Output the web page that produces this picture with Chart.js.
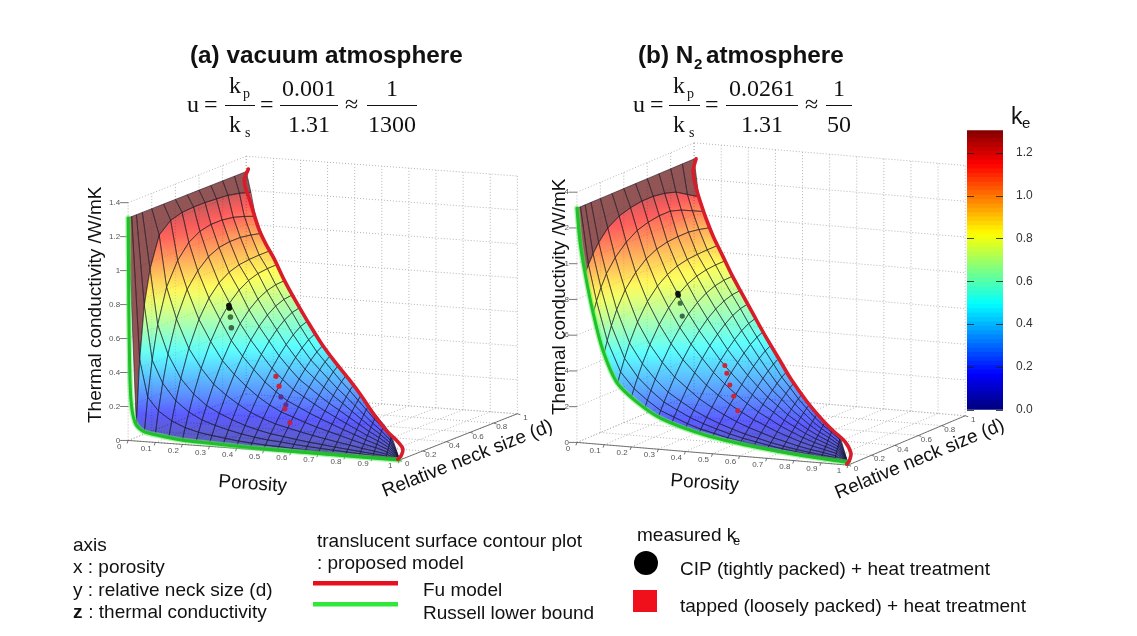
<!DOCTYPE html>
<html><head><meta charset="utf-8">
<style>html,body{margin:0;padding:0;background:#fff;overflow:hidden}canvas{position:absolute;display:block}</style>
<script src="https://cdn.jsdelivr.net/npm/chart.js@4"></script>
</head><body>
<canvas id="main" width="1137" height="636" style="left:0;top:0;width:1137px;height:636px"></canvas>
<canvas id="bar" width="72" height="320" style="left:967px;top:110px;width:72px;height:320px"></canvas>
<script>
// ---------- values ----------
const porosityRows=[0,.03,.06,.1,.15,.2,.25,.3,.35,.4,.45,.5,.55,.6,.65,.7,.75,.8,.85,.9,.95,1];
const neckShareCols=[0,.03,.07,.12,.2,.3,.4,.5,.6,.7,.8,.9,1]; // share of the reachable neck size at each porosity
const keVacuum=[
[1.31,1.31,1.31,1.31,1.31,1.31,1.31,1.31,1.31,1.31,1.31,1.31,1.31],
[.10,.47,.78,.98,1.16,1.22,1.24,1.245,1.245,1.24,1.235,1.22,1.20],
[.06,.254,.462,.657,.858,.99,1.07,1.11,1.125,1.125,1.115,1.095,1.07],
[.045,.178,.331,.489,.677,.827,.912,.97,1.0,1.01,1.01,1.0,.985],
[.035,.125,.234,.354,.512,.66,.762,.829,.868,.889,.897,.90,.90],
[.025,.092,.175,.27,.404,.54,.645,.723,.777,.812,.831,.838,.84],
[.02,.071,.135,.21,.319,.437,.535,.614,.674,.718,.746,.761,.765],
[.018,.058,.11,.172,.264,.366,.454,.53,.591,.639,.673,.693,.70],
[.015,.048,.09,.141,.218,.307,.387,.458,.518,.568,.607,.634,.645],
[.012,.038,.073,.115,.179,.256,.325,.389,.446,.496,.537,.569,.585],
[.01,.032,.061,.096,.151,.216,.278,.336,.389,.436,.477,.51,.53],
[.009,.027,.051,.081,.128,.184,.237,.289,.337,.382,.422,.456,.48],
[.008,.024,.046,.072,.113,.164,.212,.259,.303,.344,.382,.416,.44],
[.006,.02,.039,.062,.099,.143,.186,.229,.269,.307,.343,.375,.40],
[.005,.017,.034,.054,.086,.125,.164,.201,.237,.272,.305,.335,.36],
[.004,.015,.029,.047,.075,.11,.144,.177,.21,.242,.272,.301,.325],
[.003,.012,.025,.04,.064,.095,.124,.153,.182,.21,.237,.262,.285],
[.003,.011,.021,.034,.055,.08,.106,.13,.155,.179,.202,.225,.245],
[.002,.008,.017,.028,.044,.065,.086,.107,.127,.148,.168,.187,.205],
[.002,.007,.014,.023,.036,.054,.071,.088,.105,.121,.138,.154,.17],
[.001,.005,.01,.016,.026,.038,.051,.063,.075,.088,.1,.113,.125],
[.001,.002,.002,.003,.003,.004,.005,.006,.007,.008,.009,.009,.01]];
const keNitrogen=[
[1.31,1.31,1.31,1.31,1.31,1.31,1.31,1.31,1.31,1.31,1.31,1.31,1.31],
[.95,.99,1.04,1.09,1.15,1.19,1.21,1.22,1.22,1.21,1.19,1.15,1.11],
[.73,.79,.855,.92,.99,1.05,1.09,1.11,1.12,1.12,1.10,1.07,1.04],
[.51,.574,.648,.725,.816,.889,.94,.97,.985,.99,.99,.98,.965],
[.35,.406,.473,.547,.645,.737,.80,.841,.865,.878,.883,.885,.885],
[.275,.32,.375,.439,.528,.619,.69,.742,.778,.801,.814,.819,.82],
[.225,.261,.307,.36,.438,.522,.591,.647,.69,.722,.742,.752,.755],
[.18,.21,.25,.296,.365,.443,.51,.566,.613,.649,.674,.69,.695],
[.155,.18,.213,.252,.312,.38,.442,.496,.542,.581,.611,.631,.64],
[.13,.151,.178,.211,.261,.321,.376,.426,.471,.51,.543,.567,.58],
[.11,.127,.151,.179,.223,.275,.324,.37,.412,.45,.483,.509,.525],
[.095,.11,.129,.152,.19,.234,.277,.318,.356,.392,.424,.451,.47],
[.08,.092,.109,.13,.161,.201,.238,.274,.308,.341,.37,.396,.415],
[.068,.079,.092,.109,.137,.17,.202,.233,.263,.291,.318,.342,.36],
[.058,.067,.079,.094,.118,.147,.175,.203,.229,.255,.279,.302,.32],
[.048,.056,.066,.078,.098,.123,.147,.171,.194,.216,.238,.258,.275],
[.04,.047,.055,.066,.084,.105,.126,.147,.167,.187,.206,.224,.24],
[.033,.039,.046,.055,.07,.088,.106,.124,.141,.158,.175,.191,.205],
[.028,.033,.039,.047,.06,.075,.091,.107,.122,.137,.152,.166,.18],
[.024,.028,.034,.041,.052,.066,.08,.093,.107,.121,.134,.147,.16],
[.02,.023,.028,.034,.043,.055,.066,.078,.089,.1,.112,.124,.135],
[.01,.01,.01,.01,.01,.01,.01,.01,.01,.01,.01,.01,.01]];
const fuPorosityA=[0,0,0,.02,.05,.084,.13,.18,.25,.32,.4,.49,.58,.67,.75,.84,.92,.97,1,1,.995];
const fuNeckA=[1.017,.983,.995,.98,.95,.916,.87,.82,.75,.68,.6,.51,.42,.33,.25,.16,.08,.03,.03,.015,0];
const fuKeA=[1.32,1.266,1.21,1.157,1.08,1.0,.93,.87,.765,.677,.585,.49,.415,.35,.285,.2,.14,.116,.06,.02,.005];
const fuPorosityB=[0,0,0,.02,.05,.077,.125,.18,.245,.31,.385,.465,.55,.63,.73,.826,.91,.98,1,1,.995];
const fuNeckB=[1.017,.992,1,.98,.95,.923,.875,.82,.755,.69,.615,.535,.45,.37,.27,.174,.09,.02,.025,.01,0];
const fuKeB=[1.306,1.25,1.195,1.135,1.065,1.009,.925,.85,.76,.683,.595,.503,.415,.331,.25,.19,.15,.124,.06,.02,.005];
const russellPorosityA=[0,.002,.004,.01,.025,.055,.1,.2,.3,.45,.6,.8,1];
const russellKeA=[1.31,.9,.6,.25,.11,.06,.045,.025,.018,.01,.006,.003,.001];
const russellPorosityB=[0,.011,.03,.06,.095,.146,.22,.315,.476,.645,.84,1];
const russellKeB=[1.31,1.127,.95,.73,.53,.356,.255,.17,.10,.06,.03,.015];
const cipPorosity=.2, tappedPorosity=.45;
const cipNeckA=[.394,.398,.407,.415], cipKeA=[.71,.694,.639,.573];
const tappedNeckA=[.219,.245,.261,.303,.295,.337], tappedKeA=[.37,.305,.237,.179,.158,.065];
const cipNeckB=[.398,.402,.419,.436], cipKeB=[.749,.738,.689,.612];
const tappedNeckB=[.221,.238,.264,.297,.331], tappedKeB=[.427,.378,.305,.234,.143];
const porosityTicks=[0,.1,.2,.3,.4,.5,.6,.7,.8,.9,1];
const neckTicks=[0,.2,.4,.6,.8,1];
const keTicks=[0,.2,.4,.6,.8,1,1.2,1.4];
const colorbarMax=1.305, colorbarSlices=64;

// ---------- view (orthographic projection of the two 3D boxes) ----------
const viewA={ox:125,oy:442,px:273,py:20,dx:119,dy:-47,kz:172};
const viewB={ox:577,oy:444,px:273,py:23,dx:118,dy:-50,kz:181};
const proj=(v,p,d,k)=>({x:v.ox+v.px*p+v.dx*d,y:v.oy+v.py*p+v.dy*d-v.kz*k});
function jet(t){const c=a=>Math.round(255*Math.max(0,Math.min(1,a)));t=Math.max(0,Math.min(1,t));
  return [c(Math.min(4*t-1.5,-4*t+4.5)),c(Math.min(4*t-.5,-4*t+3.5)),c(Math.min(4*t+.5,-4*t+2.5))];}
const jetCss=(k,a)=>{const c=jet(k/colorbarMax);return `rgba(${c[0]},${c[1]},${c[2]},${a})`;};

function series(v,ps,ds,ks){return ks.map((k,i)=>proj(v,Array.isArray(ps)?ps[i]:ps,ds?ds[i]:0,k));}
const line=(data,color,w)=>({type:'scatter',data,showLine:true,borderColor:color,borderWidth:w,pointRadius:0,tension:.3,borderJoinStyle:'round',borderCapStyle:'round',fill:false});
const dots=(data,colors,r,style)=>({type:'scatter',data,showLine:false,pointRadius:r,pointStyle:style||'circle',backgroundColor:colors,borderColor:colors,borderWidth:0});

const cipColors=['#0c140c','#0c140c','#3f7440','#3c6a48'];
const tappedColorsA=['#cc2438','#cc2438','#55309a','#5a2f9c','#c0224c','#c0224c'];
const tappedColorsB=['#cc2438','#cc2438','#cc2438','#cc2438','#cc2438'];

const datasets=[
 dots(series(viewA,cipPorosity,cipNeckA,cipKeA),cipColors,2.8),
 dots(series(viewA,tappedPorosity,tappedNeckA,tappedKeA),tappedColorsA,2.6),
 dots(series(viewB,cipPorosity,cipNeckB,cipKeB),cipColors,2.6),
 dots(series(viewB,tappedPorosity,tappedNeckB,tappedKeB),tappedColorsB,2.5),
 line(series(viewA,fuPorosityA,fuNeckA,fuKeA),'#d81c2a',3.6),
 line(series(viewB,fuPorosityB,fuNeckB,fuKeB),'#d81c2a',3.6),
 line(series(viewA,russellPorosityA,null,russellKeA),'#1fc02a',3),
 line(series(viewB,russellPorosityB,null,russellKeB),'#1fc02a',3),
 line(series(viewA,russellPorosityA,null,russellKeA),'rgba(90,240,90,.55)',5.5),
 line(series(viewB,russellPorosityB,null,russellKeB),'rgba(90,240,90,.55)',5.5)
];

// ---------- plugin: boxes, surface, text ----------
function drawBox(ctx,v,sx,sy,keLabels){
 const P=(p,d,k)=>{const q=proj(v,p,d,k);return [sx.getPixelForValue(q.x),sy.getPixelForValue(q.y)];};
 const seg=(a,b)=>{ctx.beginPath();ctx.moveTo(a[0],a[1]);ctx.lineTo(b[0],b[1]);ctx.stroke();};
 ctx.save();ctx.lineWidth=1;ctx.strokeStyle='#b4b4b4';ctx.setLineDash([1,2]);
 keTicks.forEach(k=>{seg(P(0,0,k),P(0,1,k));seg(P(0,1,k),P(1,1,k));});
 porosityTicks.forEach(p=>{seg(P(p,1,0),P(p,1,1.4));seg(P(p,0,0),P(p,1,0));});
 neckTicks.forEach(d=>{seg(P(0,d,0),P(0,d,1.4));seg(P(0,d,0),P(1,d,0));});
 ctx.setLineDash([]);ctx.strokeStyle='#555';ctx.lineWidth=.8;
 seg(P(0,0,0),P(1,0,0));seg(P(1,0,0),P(1,1,0));
 porosityTicks.forEach(p=>{const a=P(p,0,0);seg(a,[a[0]-1,a[1]+3]);});
 neckTicks.forEach(d=>{const a=P(1,d,0);seg(a,[a[0]+3,a[1]+1]);});
 keTicks.forEach(k=>{const a=P(0,0,k);seg([a[0]-8,a[1]],a);});
 ctx.fillStyle='#555';ctx.font='8px "Liberation Sans"';ctx.textBaseline='middle';
 ctx.textAlign='center';
 porosityTicks.forEach(p=>{const a=P(p,0,0);ctx.fillText(String(p),a[0]-9,a[1]+6);});
 neckTicks.forEach(d=>{const a=P(1,d,0);ctx.fillText(String(d),a[0]+8,a[1]+4);});
 ctx.textAlign='right';
 keTicks.forEach((k,i)=>{const a=P(0,0,k);ctx.fillText(keLabels[i],a[0]-8,a[1]);});
 ctx.restore();
}
function drawSurface(ctx,v,table,sx,sy){
 const V=(i,j)=>{const p=porosityRows[i],d=neckShareCols[j]*(1-p),k=table[i][j],q=proj(v,p,d,k);
   return {x:sx.getPixelForValue(q.x),y:sy.getPixelForValue(q.y),k};};
 ctx.save();
 for(let j=neckShareCols.length-2;j>=0;j--)for(let i=0;i<porosityRows.length-1;i++){
  const c=[V(i,j),V(i,j+1),V(i+1,j+1),V(i+1,j)];
  ctx.beginPath();ctx.moveTo(c[0].x,c[0].y);for(let n=1;n<4;n++)ctx.lineTo(c[n].x,c[n].y);ctx.closePath();
  if(i===0){ctx.fillStyle='rgba(122,48,48,.82)';}
  else{
   let lo=c[0],hi=c[0];c.forEach(q=>{if(q.k<lo.k)lo=q;if(q.k>hi.k)hi=q;});
   if(Math.abs(hi.y-lo.y)<.5){ctx.fillStyle=jetCss(lo.k,.64);}
   else{const g=ctx.createLinearGradient(0,lo.y,0,hi.y);
    for(let s=0;s<=4;s++)g.addColorStop(s/4,jetCss(lo.k+(hi.k-lo.k)*s/4,.64));ctx.fillStyle=g;}
  }
  ctx.fill();
  ctx.strokeStyle='rgba(25,25,40,.78)';ctx.lineWidth=.75;ctx.stroke();
 }
 ctx.restore();
}
function T(ctx,s,x,y,font,opt){opt=opt||{};ctx.save();ctx.font=font;ctx.fillStyle=opt.color||'#111';
 ctx.textBaseline='alphabetic';ctx.textAlign=opt.align||'left';ctx.translate(x,y);if(opt.rot)ctx.rotate(opt.rot*Math.PI/180);ctx.fillText(s,0,0);ctx.restore();}
function eq(ctx,o){
 const F='24px "Liberation Serif"',f='14px "Liberation Serif"',yb=112,c={align:'center'};
 T(ctx,'u',o.u,yb,F);T(ctx,'=',o.e1,yb,F);
 ctx.fillStyle='#111';
 [[o.b1,o.b1e],[o.b2,o.b2e],[o.b3,o.b3e]].forEach(b=>ctx.fillRect(b[0],105,b[1]-b[0],1));
 T(ctx,'k',o.b1+4,93,F);T(ctx,'p',o.b1+18,98,f);
 T(ctx,'k',o.b1+4,132,F);T(ctx,'s',o.b1+20,137,f);
 T(ctx,'=',o.e2,yb,F);
 T(ctx,o.n2,(o.b2+o.b2e)/2,96,F,c);T(ctx,'1.31',(o.b2+o.b2e)/2,132,F,c);
 T(ctx,'≈',o.ap,yb,F);
 T(ctx,'1',(o.b3+o.b3e)/2,96,F,c);T(ctx,o.d3,(o.b3+o.b3e)/2,132,F,c);
}
const scene={id:'scene',beforeDatasetsDraw(chart){
 const ctx=chart.ctx,sx=chart.scales.x,sy=chart.scales.y;
 const labelsA=['0','0.2','0.4','0.6','0.8','1','1.2','1.4'],labelsB=['0','2','4','6','8','1','2','4'];
 drawBox(ctx,viewA,sx,sy,labelsA);drawBox(ctx,viewB,sx,sy,labelsB);
 drawSurface(ctx,viewA,keVacuum,sx,sy);drawSurface(ctx,viewB,keNitrogen,sx,sy);
},afterDatasetsDraw(chart){
 const ctx=chart.ctx,B='bold 24.3px "Liberation Sans"',A='19px "Liberation Sans"',L='19px "Liberation Sans"';
 T(ctx,'(a) vacuum atmosphere',190,63,B);
 T(ctx,'(b) N',638,63,B);T(ctx,'2',694,69,'bold 15px "Liberation Sans"');T(ctx,'atmosphere',706,63,B);
 eq(ctx,{u:187,e1:204,b1:225,b1e:255,e2:260,b2:280,b2e:338,n2:'0.001',ap:345,b3:367,b3e:417,d3:'1300'});
 eq(ctx,{u:633,e1:650,b1:669,b1e:700,e2:705,b2:726,b2e:798,n2:'0.0261',ap:805,b3:826,b3e:852,d3:'50'});
 T(ctx,'Thermal conductivity /W/mK',101,423,A,{rot:-90});
 T(ctx,'Thermal conductivity /W/mK',565,415,A,{rot:-90});
 T(ctx,'Porosity',218,487,A,{rot:4});T(ctx,'Porosity',670,486,A,{rot:4});
 T(ctx,'Relative neck size (d)',385,497,A,{rot:-21.5});T(ctx,'Relative neck size (d)',838,499,A,{rot:-22.6});
 T(ctx,'axis',73,551,L);T(ctx,'x : porosity',73,573,L);T(ctx,'y : relative neck size (d)',73,596,L);
 T(ctx,'z',73,618,'bold 19px "Liberation Sans"');T(ctx,' : thermal conductivity',83,618,L);
 T(ctx,'translucent surface contour plot',317,547,L);T(ctx,': proposed model',317,569,L);
 ctx.fillStyle='#e8101e';ctx.fillRect(313,581,85,4.5);ctx.fillStyle='#2fe83a';ctx.fillRect(313,602,85,4.5);
 T(ctx,'Fu model',423,596,L);T(ctx,'Russell lower bound',423,619,L);
 T(ctx,'measured k',637,541,L);T(ctx,'e',733,545,'13px "Liberation Sans"');
 ctx.fillStyle='#000';ctx.beginPath();ctx.arc(646,563,12,0,7);ctx.fill();
 ctx.fillStyle='#f0101c';ctx.fillRect(633,590,24,22);
 T(ctx,'CIP (tightly packed) + heat treatment',680,575,L);
 T(ctx,'tapped (loosely packed) + heat treatment',680,612,L);
 T(ctx,'k',1011,124,'23px "Liberation Sans"');T(ctx,'e',1022,128,'15px "Liberation Sans"');
}};
Chart.defaults.animation=false;
new Chart(document.getElementById('main'),{type:'scatter',data:{datasets},plugins:[scene],options:{
 responsive:false,maintainAspectRatio:false,events:[],layout:{padding:0},
 plugins:{legend:{display:false},tooltip:{enabled:false}},
 scales:{x:{type:'linear',min:0,max:1137,display:false},y:{type:'linear',min:0,max:636,reverse:true,display:false}}
}});

// ---------- colour bar ----------
const sliceValues=new Array(colorbarSlices).fill(colorbarMax/colorbarSlices);
const barSets=sliceValues.map((v,i)=>{const c=jetCss((i+.5)*v,1);return {data:[v],backgroundColor:c,borderWidth:0,inflateAmount:1,stack:'s',barPercentage:1,categoryPercentage:1};});
const barTicks={id:'barTicks',afterDatasetsDraw(chart){const c=chart.ctx,a=chart.chartArea,y=chart.scales.y;
 c.save();c.strokeStyle='rgba(30,30,30,.8)';c.lineWidth=1;
 y.ticks.forEach(t=>{const q=Math.round(y.getPixelForValue(t.value))+.5;c.beginPath();c.moveTo(a.left,q);c.lineTo(a.left+7,q);c.moveTo(a.right-7,q);c.lineTo(a.right,q);c.stroke();});
 c.restore();}};
new Chart(document.getElementById('bar'),{type:'bar',data:{labels:['ke'],datasets:barSets},plugins:[barTicks],options:{
 responsive:false,maintainAspectRatio:false,events:[],layout:{padding:0},
 plugins:{legend:{display:false},tooltip:{enabled:false}},
 scales:{x:{stacked:true,display:false},
  y:{stacked:true,position:'right',min:0,max:colorbarMax,grid:{display:false,drawTicks:false},border:{display:false},
   afterFit(s){s.width=36;},
   ticks:{stepSize:.2,includeBounds:false,padding:13,color:'#333',font:{family:'Liberation Sans',size:12},callback:v=>v.toFixed(1)}}}
}});
</script>
</body></html>
